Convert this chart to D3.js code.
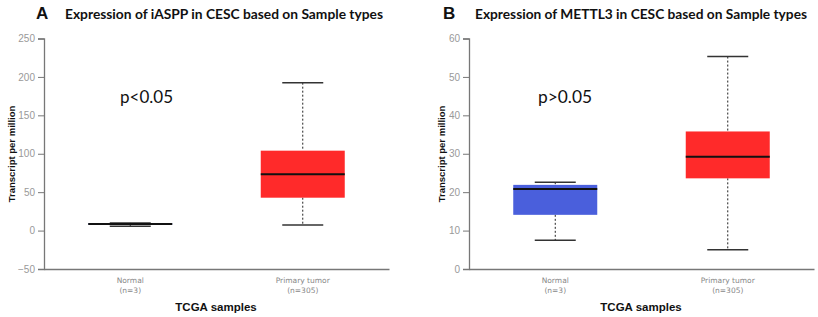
<!DOCTYPE html>
<html><head><meta charset="utf-8">
<script src="https://cdn.jsdelivr.net/npm/d3@7/dist/d3.min.js"></script>
<style>body{margin:0;background:#fff}svg{display:block}</style>
</head><body>
<svg id="c" width="818" height="317"></svg>
<script>
// ---- data ----
const categories = ["Normal", "Primary tumor"];
const sampleCounts = ["(n=3)", "(n=305)"];
const boxColors = ["#4a5fdc", "#ff2a2a"];

// Panel A: iASPP
const iasppLower  = [5.5, 7.3];
const iasppQ1     = [7.8, 42.8];
const iasppMedian = [8.5, 73.3];
const iasppQ3     = [9.5, 104];
const iasppUpper  = [10, 192.5];
const iasppTicks  = [-50, 0, 50, 100, 150, 200, 250];

// Panel B: METTL3
const mettlLower  = [7.5, 5.0];
const mettlQ1     = [14.1, 23.6];
const mettlMedian = [20.8, 29.2];
const mettlQ3     = [21.9, 35.8];
const mettlUpper  = [22.6, 55.3];
const mettlTicks  = [0, 10, 20, 30, 40, 50, 60];

const panels = [
  {letter:"A", title:"Expression of iASPP in CESC based on Sample types", p:"p<0.05",
   x0:44, domain:[-50,250], ticks:iasppTicks,
   lower:iasppLower,q1:iasppQ1,med:iasppMedian,q3:iasppQ3,upper:iasppUpper,
   letterX:36, titleX:65, titleW:318, pX:120, pW:53, labelX:11},
  {letter:"B", title:"Expression of METTL3 in CESC based on Sample types", p:"p>0.05",
   x0:469, domain:[0,60], ticks:mettlTicks,
   lower:mettlLower,q1:mettlQ1,med:mettlMedian,q3:mettlQ3,upper:mettlUpper,
   letterX:443, titleX:475, titleW:332, pX:538, pW:54, labelX:441}
];

const svg = d3.select("#c");
const plotTop = 38.5, plotBottom = 269;

panels.forEach(P => {
  const g = svg.append("g");
  const y = d3.scaleLinear().domain(P.domain).range([plotBottom, plotTop]);
  const x = d3.scaleBand().domain(categories).range([P.x0, P.x0 + 345]);

  // titles
  g.append("text").attr("x", P.letterX).attr("y", 19)
    .attr("font-family", "Liberation Sans, Arial, sans-serif").attr("font-weight", "bold")
    .attr("font-size", 17).attr("fill", "#111").text(P.letter);
  g.append("text").attr("x", P.titleX).attr("y", 18.5)
    .attr("font-family", "Lato, 'Open Sans', sans-serif").attr("font-weight", "bold")
    .attr("font-size", 13.8).attr("fill", "#111")
    .attr("textLength", P.titleW).attr("lengthAdjust", "spacingAndGlyphs").text(P.title);

  // y axis
  const ya = g.append("g").attr("transform", `translate(${P.x0},0)`)
    .call(d3.axisLeft(y).tickValues(P.ticks).tickSize(6).tickPadding(3));
  ya.select(".domain").attr("stroke", "#777").attr("stroke-width", 1.3);
  ya.selectAll(".tick line").attr("stroke", "#777");
  ya.selectAll(".tick text").attr("fill", "#999").attr("font-size", 10)
    .attr("font-family", "Liberation Sans, Arial, sans-serif");

  // x axis
  const xa = g.append("g").attr("transform", `translate(0,${plotBottom})`)
    .call(d3.axisBottom(x).tickSize(0).tickFormat(""));
  xa.select(".domain").attr("stroke", "#777").attr("stroke-width", 1.3);

  categories.forEach((c, i) => {
    const cx = x(c) + x.bandwidth() / 2;
    g.append("text").attr("x", cx).attr("y", 283).attr("text-anchor", "middle")
      .attr("font-family", "DejaVu Sans, sans-serif").attr("font-size", 7.5).attr("fill", "#888").text(c);
    g.append("text").attr("x", cx).attr("y", 293).attr("text-anchor", "middle")
      .attr("font-family", "DejaVu Sans, sans-serif").attr("font-size", 7.5).attr("fill", "#888").text(sampleCounts[i]);
  });
  g.append("text").attr("x", P.x0 + 172).attr("y", 311).attr("text-anchor", "middle")
    .attr("font-family", "Liberation Sans, Arial, sans-serif").attr("font-weight", "bold")
    .attr("font-size", 11.5).attr("fill", "#111").text("TCGA samples");

  // y label
  g.append("text").attr("transform", `translate(${P.labelX + 3.5},154) rotate(-90)`)
    .attr("text-anchor", "middle").attr("font-family", "Liberation Sans, Arial, sans-serif")
    .attr("font-weight", "bold").attr("font-size", 9.5).attr("fill", "#111").text("Transcript per million");

  // boxes
  const boxW = 84, capW = 41;
  categories.forEach((c, i) => {
    const cx = x(c) + x.bandwidth() / 2;
    g.append("line").attr("x1", cx).attr("x2", cx).attr("y1", y(P.upper[i])).attr("y2", y(P.q3[i]))
      .attr("stroke", "#222").attr("stroke-dasharray", "2,2").attr("stroke-width", 1);
    g.append("line").attr("x1", cx).attr("x2", cx).attr("y1", y(P.q1[i])).attr("y2", y(P.lower[i]))
      .attr("stroke", "#222").attr("stroke-dasharray", "2,2").attr("stroke-width", 1);
    [P.upper[i], P.lower[i]].forEach(v => {
      g.append("line").attr("x1", cx - capW/2).attr("x2", cx + capW/2).attr("y1", y(v)).attr("y2", y(v))
        .attr("stroke", "#333").attr("stroke-width", 1.5);
    });
    g.append("rect").attr("x", cx - boxW/2).attr("width", boxW)
      .attr("y", y(P.q3[i])).attr("height", Math.max(1, y(P.q1[i]) - y(P.q3[i])))
      .attr("fill", boxColors[i]);
    g.append("line").attr("x1", cx - boxW/2).attr("x2", cx + boxW/2).attr("y1", y(P.med[i])).attr("y2", y(P.med[i]))
      .attr("stroke", "#111").attr("stroke-width", 2);
  });

  g.append("text").attr("x", P.pX).attr("y", 103)
    .attr("font-family", "Lato, 'Open Sans', sans-serif").attr("font-size", 17.5).attr("fill", "#111")
    .attr("textLength", P.pW).attr("lengthAdjust", "spacingAndGlyphs").text(P.p);
});
</script>
</body></html>
